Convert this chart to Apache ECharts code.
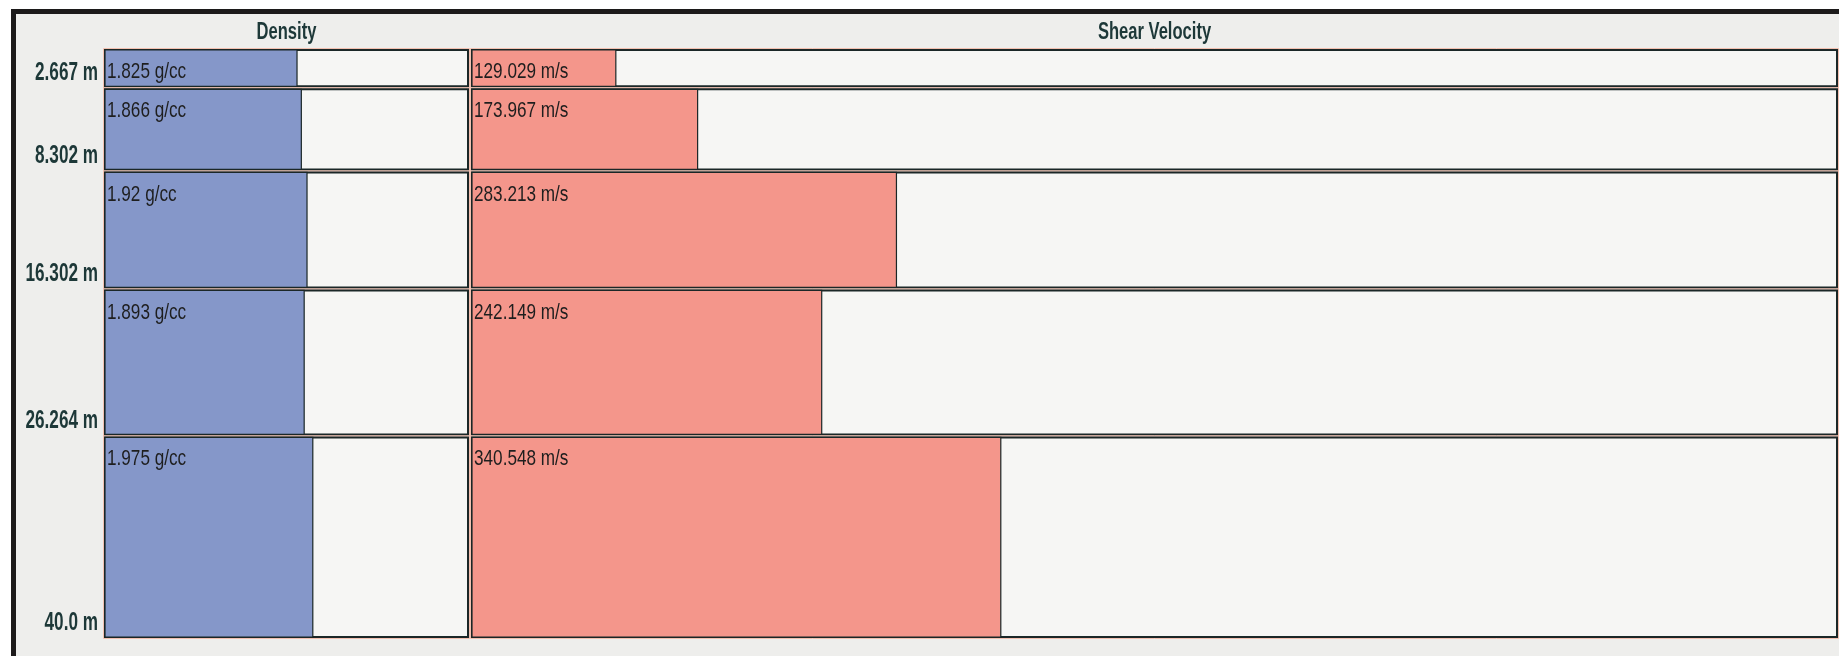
<!DOCTYPE html>
<html>
<head>
<meta charset="utf-8">
<title>Density / Shear Velocity</title>
<script src="https://cdn.jsdelivr.net/npm/echarts@6/dist/echarts.min.js"></script>
<style>
html, body { margin: 0; padding: 0; background: #fff; }
#main { width: 1839px; height: 656px; }
</style>
</head>
<body>
<div id="main"></div>
<script>
// layer boundaries (m)
var layerTops = [0, 2.667, 8.302, 16.302, 26.264];
var layerBottoms = [2.667, 8.302, 16.302, 26.264, 40.0];
var depthLabels = ['2.667 m', '8.302 m', '16.302 m', '26.264 m', '40.0 m'];
// values per layer
var density = [1.825, 1.866, 1.92, 1.893, 1.975];          // g/cc
var shearVelocity = [129.029, 173.967, 283.213, 242.149, 340.548]; // m/s
var panelTitles = ['Density', 'Shear Velocity'];

// no narrow font installed -> Arial-metric font squeezed with scaleX
var FONT = '"Liberation Sans", Arial, sans-serif';
var LINE = '#1b2727';
var TEAL = '#1d3838';

var GRID_TOP = 49, GRID_H = 590;
var grids = [
	{ left: 105, width: 363 },
	{ left: 472, width: 1365 }
];

function buildRows(values) {
	var rows = [];
	for (var i = 0; i < values.length; i++) {
		rows.push([layerTops[i], layerBottoms[i], values[i]]);
	}
	return rows;
}

// one layer = framed box + filled bar + value text
function layerItem(color, unit) {
	return function (params, api) {
		var cs = params.coordSys;
		var top = api.value(0), bottom = api.value(1), val = api.value(2);
		var yTop = api.coord([val, top])[1] + 1;
		var yBot = api.coord([val, bottom])[1] - 2;
		var xEnd = api.coord([val, top])[0];
		return {
			type: 'group',
			children: [
				{
					type: 'rect',
					shape: { x: cs.x - 1.5, y: yTop - 1.5, width: cs.width + 3, height: yBot - yTop + 3 },
					style: { fill: 'none', stroke: '#f2c0b0', lineWidth: 1 }
				},
				{
					type: 'rect',
					shape: { x: cs.x, y: yTop, width: cs.width, height: yBot - yTop },
					style: { fill: '#f6f6f4', stroke: LINE, lineWidth: 2 }
				},
				{
					type: 'rect',
					shape: { x: cs.x, y: yTop, width: xEnd - cs.x, height: yBot - yTop },
					style: { fill: color, stroke: LINE, lineWidth: 1.2 }
				},
				{
					type: 'text',
					x: cs.x + 2,
					y: yTop + 22,
					scaleX: 0.78,
					style: {
						text: val + ' ' + unit,
						font: '22px ' + FONT,
						fill: '#1e1e1e',
						align: 'left', verticalAlign: 'middle',
						textAlign: 'left', textVerticalAlign: 'middle'
					}
				}
			]
		};
	};
}

// depth labels at the bottom of each layer, left of the density panel
function depthItem(params, api) {
	var cs = params.coordSys;
	var y = api.coord([0, api.value(0)])[1];
	return {
		type: 'text',
		x: cs.x - 7,
		y: y - 16,
		scaleX: 0.66,
		style: {
			text: depthLabels[params.dataIndex],
			font: 'bold 26px ' + FONT,
			fill: TEAL,
			align: 'right', verticalAlign: 'middle',
			textAlign: 'right', textVerticalAlign: 'middle'
		}
	};
}

var titleGraphics = panelTitles.map(function (t, i) {
	return {
		type: 'text',
		x: grids[i].left + grids[i].width / 2,
		y: 33,
		scaleX: 0.72,
		style: {
			text: t,
			font: 'bold 23px ' + FONT,
			fill: TEAL,
			align: 'center', verticalAlign: 'middle',
			textAlign: 'center', textVerticalAlign: 'middle'
		}
	};
});

var myChart = echarts.init(document.getElementById('main'));

var option = {
	backgroundColor: '#ffffff',
	animation: false,
	graphic: [
		{
			type: 'rect',
			z: -10,
			shape: { x: 13.5, y: 11.5, width: 1900, height: 700 },
			style: { fill: '#eeeeec', stroke: '#1c1a1a', lineWidth: 5 }
		}
	].concat(titleGraphics),
	grid: grids.map(function (g) {
		return { left: g.left, width: g.width, top: GRID_TOP, height: GRID_H };
	}),
	xAxis: [
		{ type: 'value', gridIndex: 0, min: 0, max: 3.45, show: false },
		{ type: 'value', gridIndex: 1, min: 50, max: 800, show: false }
	],
	yAxis: [
		{ type: 'value', gridIndex: 0, min: 0, max: 40, inverse: true, show: false },
		{ type: 'value', gridIndex: 1, min: 0, max: 40, inverse: true, show: false }
	],
	series: [
		{
			name: 'Density',
			type: 'custom',
			xAxisIndex: 0, yAxisIndex: 0,
			renderItem: layerItem('#8597c9', 'g/cc'),
			encode: { x: 2, y: [0, 1] },
			data: buildRows(density)
		},
		{
			name: 'Shear Velocity',
			type: 'custom',
			xAxisIndex: 1, yAxisIndex: 1,
			renderItem: layerItem('#f4968b', 'm/s'),
			encode: { x: 2, y: [0, 1] },
			data: buildRows(shearVelocity)
		},
		{
			name: 'Depth',
			type: 'custom',
			xAxisIndex: 0, yAxisIndex: 0,
			renderItem: depthItem,
			encode: { y: 0 },
			data: layerBottoms.map(function (d) { return [d]; })
		}
	]
};
myChart.setOption(option);
</script>
</body>
</html>
